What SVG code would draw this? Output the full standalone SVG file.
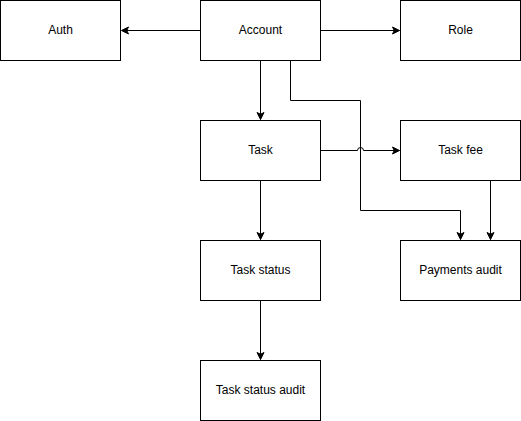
<svg xmlns="http://www.w3.org/2000/svg" width="521" height="421" viewBox="0 0 521 421">
<style>
.n rect{fill:#fff;stroke:#000;stroke-width:1}
.n text{font-family:"Liberation Sans",Arial,sans-serif;font-size:12px;fill:#000;text-anchor:middle;dominant-baseline:central}
.e path{fill:none;stroke:#000;stroke-width:1}
</style>
<defs>
<marker id="a" markerUnits="userSpaceOnUse" markerWidth="10" markerHeight="10" refX="8" refY="5" orient="auto" viewBox="0 0 10 10">
<path d="M1,1.5 L8,5 L1,8.5 L2.75,5 Z" fill="#000" stroke="#000" stroke-width="1"/>
</marker>
</defs>
<rect width="521" height="421" fill="#fff"/>
<g class="e">
<path d="M200.5,30.5 H121.5" marker-end="url(#a)"/>
<path d="M320.5,30.5 H399.5" marker-end="url(#a)"/>
<path d="M260.5,60.5 V119.5" marker-end="url(#a)"/>
<path d="M290.5,60.5 V100.5 H360.5 V210.5 H460.5 V239.5" marker-end="url(#a)"/>
<path d="M320.5,150.5 H357.5 A3,3 0 0 1 363.5,150.5 H399.5" marker-end="url(#a)"/>
<path d="M490.5,180.5 V239.5" marker-end="url(#a)"/>
<path d="M260.5,180.5 V239.5" marker-end="url(#a)"/>
<path d="M260.5,300.5 V359.5" marker-end="url(#a)"/>
</g>
<g id="auth" class="n"><rect x="0.5" y="0.5" width="120" height="60"/><text x="60.5" y="29.5">Auth</text></g>
<g id="account" class="n"><rect x="200.5" y="0.5" width="120" height="60"/><text x="260.5" y="29.5">Account</text></g>
<g id="role" class="n"><rect x="400.5" y="0.5" width="120" height="60"/><text x="460.5" y="29.5">Role</text></g>
<g id="task" class="n"><rect x="200.5" y="120.5" width="120" height="60"/><text x="260.5" y="149.5">Task</text></g>
<g id="taskfee" class="n"><rect x="400.5" y="120.5" width="120" height="60"/><text x="460.5" y="149.5">Task fee</text></g>
<g id="taskstatus" class="n"><rect x="200.5" y="240.5" width="120" height="60"/><text x="260.5" y="269.5">Task status</text></g>
<g id="paymentsaudit" class="n"><rect x="400.5" y="240.5" width="120" height="60"/><text x="460.5" y="269.5">Payments audit</text></g>
<g id="taskstatusaudit" class="n"><rect x="200.5" y="360.5" width="120" height="60"/><text x="260.5" y="389.5">Task status audit</text></g>
</svg>
